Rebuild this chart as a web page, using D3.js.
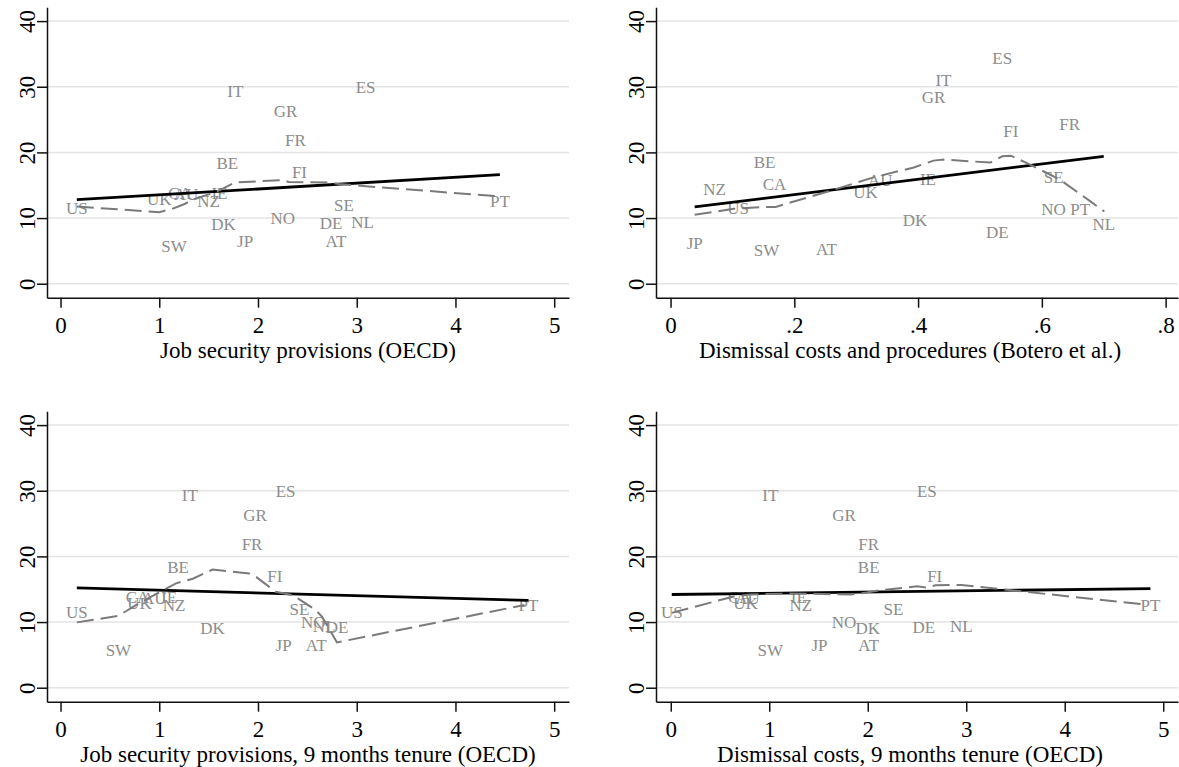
<!DOCTYPE html>
<html>
<head>
<meta charset="utf-8">
<script src="https://cdn.jsdelivr.net/npm/d3@7"></script>
<style>
  body { margin: 0; background: #fff; }
  svg { display: block; font-family: "Liberation Serif", "Times New Roman", serif; }
</style>
</head>
<body>
<svg id="chart" width="1179" height="767"></svg>
<script>
// country codes, same order in every array below
const countries = ["US","UK","CA","AU","IE","NZ","BE","IT","GR","FR","ES","FI","SE","NO","DK","DE","NL","AT","SW","JP","PT"];

// y values (OECD panels share one series, Botero panel has its own)
const yOecd   = [11.5,12.9,13.8,13.6,13.8,12.5,18.3,29.3,26.3,21.9,29.9,17.0,11.9,9.9,9.0,9.2,9.4,6.5,5.7,6.4,12.6];
const yBotero = [11.5,13.9,15.1,15.7,15.9,14.4,18.45,31.0,28.4,24.3,34.3,23.3,16.2,11.4,9.65,7.9,9.0,5.3,5.1,6.2,11.4];

// x values per panel
const xJobSec   = [0.165,1.0,1.21,1.27,1.61,1.50,1.69,1.77,2.28,2.38,3.09,2.42,2.87,2.25,1.65,2.74,3.06,2.79,1.15,1.87,4.45];
const xBotero   = [0.109,0.315,0.168,0.339,0.416,0.071,0.152,0.441,0.425,0.645,0.536,0.550,0.619,0.619,0.395,0.528,0.70,0.252,0.155,0.039,0.662];
const xJobSec9  = [0.165,0.80,0.78,0.95,1.10,1.15,1.19,1.31,1.97,1.94,2.28,2.17,2.42,2.56,1.54,2.80,2.67,2.59,0.586,2.26,4.74];
const xDismiss9 = [0.01,0.76,0.70,0.78,1.30,1.32,2.01,1.01,1.76,2.01,2.60,2.68,2.26,1.76,2.0,2.57,2.95,2.01,1.01,1.51,4.87];

// linear fit end points
const fitJobSec   = [[0.165,12.8],[4.45,16.6]];
const fitBotero   = [[0.039,11.7],[0.70,19.4]];
const fitJobSec9  = [[0.165,15.2],[4.74,13.3]];
const fitDismiss9 = [[0.01,14.2],[4.87,15.1]];

// lowess curves
const lowJobSec = [[0.165,11.75],[1.0,10.9],[1.13,11.4],[1.25,12.1],[1.34,12.8],[1.5,13.6],[1.62,14.3],[1.76,15.4],
  [2.25,15.8],[2.31,15.5],[2.72,15.4],[2.82,15.2],[3.09,14.85],[4.45,13.3]];
const lowBotero = [[0.039,10.5],[0.102,11.4],[0.151,11.7],[0.17,11.7],[0.253,14.0],[0.328,16.2],[0.393,17.7],[0.425,18.75],
  [0.441,18.9],[0.517,18.45],[0.536,19.4],[0.550,19.5],[0.582,18.1],[0.630,15.8],[0.679,12.5],[0.701,11.0]];
const lowJobSec9 = [[0.165,9.95],[0.586,10.95],[0.80,12.9],[1.17,15.9],[1.34,16.6],[1.54,18.0],[1.91,17.4],[1.98,16.9],
  [2.18,14.6],[2.35,14.1],[2.58,11.9],[2.65,10.8],[2.80,6.9],[4.70,12.6]];
const lowDismiss9 = [[0.01,11.4],[0.64,13.9],[0.81,14.2],[1.22,14.35],[1.83,14.2],[1.99,14.5],[2.13,14.85],[2.50,15.45],
  [2.59,15.25],[2.69,15.6],[2.95,15.65],[4.80,12.7]];

const yTicks = [0,10,20,30,40];
const xTicksOecd = [0,1,2,3,4,5];
const xTicksBotero = [0,0.2,0.4,0.6,0.8];

const panels = [
  {col:0,row:0,xs:xJobSec,ys:yOecd,fit:fitJobSec,low:lowJobSec,dom:[-0.137,5.15],ticks:xTicksOecd,
   fmt:d3.format("d"),title:"Job security provisions (OECD)"},
  {col:1,row:0,xs:xBotero,ys:yBotero,fit:fitBotero,low:lowBotero,dom:[-0.0235,0.82],ticks:xTicksBotero,
   fmt:function(d){ return d === 0 ? "0" : String(d).replace(/^0/, ""); },title:"Dismissal costs and procedures (Botero et al.)"},
  {col:0,row:1,xs:xJobSec9,ys:yOecd,fit:fitJobSec9,low:lowJobSec9,dom:[-0.137,5.15],ticks:xTicksOecd,
   fmt:d3.format("d"),title:"Job security provisions, 9 months tenure (OECD)"},
  {col:1,row:1,xs:xDismiss9,ys:yOecd,fit:fitDismiss9,low:lowDismiss9,dom:[-0.15,5.15],ticks:xTicksOecd,
   fmt:d3.format("d"),title:"Dismissal costs, 9 months tenure (OECD)"}
];

const svg = d3.select("#chart");
const plotW = 522, plotH = 290.4;

panels.forEach(function(p) {
  let left = 47 + p.col * 609,
      top = 7.3 + p.row * 404;

  let g = svg.append("g").attr("transform", "translate(" + left + "," + top + ")");

  let x = d3.scaleLinear().domain(p.dom).range([0, plotW]);
  let y = d3.scaleLinear().domain([-2.13, 42.1]).range([plotH, 0]);

  // grid
  g.selectAll(".grid")
    .data(yTicks)
    .enter()
    .append("line")
    .attr("x1", 1).attr("x2", plotW)
    .attr("y1", function(d){ return y(d); })
    .attr("y2", function(d){ return y(d); })
    .style("stroke", "#e4e4e4")
    .style("stroke-width", 1.5);

  // labels
  g.selectAll(".lab")
    .data(countries)
    .enter()
    .append("text")
    .attr("x", function(d, i){ return x(p.xs[i]); })
    .attr("y", function(d, i){ return y(p.ys[i]); })
    .attr("dy", "0.34em")
    .style("text-anchor", "middle")
    .style("font-size", "17px")
    .style("fill", "#8c8c8c")
    .text(function(d){ return d; });

  let line = d3.line().x(function(d){ return x(d[0]); }).y(function(d){ return y(d[1]); });

  g.append("path")
    .attr("d", line(p.fit))
    .style("fill", "none")
    .style("stroke", "#000")
    .style("stroke-width", 2.8);

  g.append("path")
    .attr("d", line(p.low))
    .style("fill", "none")
    .style("stroke", "#7a7a7a")
    .style("stroke-width", 2)
    .style("stroke-dasharray", "17,7");

  // y axis
  let ya = g.append("g")
    .call(d3.axisLeft(y).tickValues(yTicks).tickSize(10).tickSizeOuter(0));
  ya.selectAll("text")
    .attr("transform", "rotate(-90)")
    .attr("x", 0)
    .attr("y", -12)
    .attr("dy", 0)
    .style("text-anchor", "middle")
    .style("font-size", "23px")
    .style("font-family", "Liberation Serif, Times New Roman, serif")
    .style("fill", "#000");

  // x axis
  let xa = g.append("g")
    .attr("transform", "translate(0," + plotH + ")")
    .call(d3.axisBottom(x).tickValues(p.ticks).tickFormat(p.fmt).tickSize(10).tickPadding(9).tickSizeOuter(0));
  xa.selectAll("text")
    .style("font-size", "23px")
    .style("font-family", "Liberation Serif, Times New Roman, serif")
    .style("fill", "#000");

  svg.selectAll(".domain, .tick line").style("stroke", "#111").style("stroke-width", 1.5);

  g.append("text")
    .attr("x", plotW / 2 + (p.col === 1 ? -7 : 0))
    .attr("y", plotH + 60)
    .style("text-anchor", "middle")
    .style("font-size", "23px")
    .style("fill", "#000")
    .text(p.title);
});
</script>
</body>
</html>
